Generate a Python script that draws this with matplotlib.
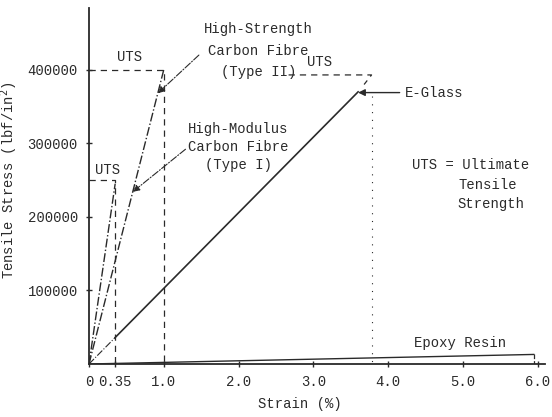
import matplotlib.pyplot as plt

# strain (%) / stress (lbf/in^2)
hs_strain = [0, 1.0]           # high-strength carbon fibre (type II)
hs_stress = [0, 400000]
hm_strain = [0, 0.35]          # high-modulus carbon fibre (type I)
hm_stress = [0, 245000]
eg_strain = [0, 0.35, 3.6]     # E-glass
eg_stress = [0, 36000, 370000]
ep_strain = [0, 5.95]          # epoxy resin
ep_stress = [0, 13000]

hs_uts = (1.0, 400000)
hm_uts = (0.35, 250000)
eg_uts = (3.78, 393000)

xticks = [0, 0.35, 1.0, 2.0, 3.0, 4.0, 5.0, 6.0]
xlabels = ['0', '0.35', '1.0', '2.0', '3.0', '4.0', '5.0', '6.0']
yticks = [100000, 200000, 300000, 400000]

plt.rcParams['font.family'] = ['Liberation Mono', 'DejaVu Sans Mono']
plt.rcParams['font.size'] = 10
ink = '#2a2a2a'

fig = plt.figure(figsize=(5.52, 4.17), dpi=100)
ax = fig.add_axes([89/552, 53/417, 456/552, 356/417])
ax.set_xlim(0, 6.1)
ax.set_ylim(0, 484000)

for s in ['top', 'right']:
    ax.spines[s].set_visible(False)
for s in ['left', 'bottom']:
    ax.spines[s].set_linewidth(1.3)
    ax.spines[s].set_color(ink)

# curves
ax.plot(hs_strain, hs_stress, color=ink, lw=1.0, ls='-.')
ax.plot(hm_strain, hm_stress, color=ink, lw=1.0, ls='-.')
ax.plot(eg_strain[:2], eg_stress[:2], color=ink, lw=0.8, ls='-.')
ax.plot(eg_strain[1:], eg_stress[1:], color=ink, lw=1.2)
ax.plot(ep_strain, ep_stress, color=ink, lw=1.0)

# UTS guide lines
ax.plot([0, hs_uts[0], hs_uts[0]], [hs_uts[1], hs_uts[1], 0], color=ink, lw=0.9, ls=(0, (5, 4)))
ax.plot([0, hm_uts[0], hm_uts[0]], [hm_uts[1], hm_uts[1], 0], color=ink, lw=0.9, ls=(0, (5, 4)))
ax.plot([2.67, eg_uts[0], eg_uts[0] - 0.1], [eg_uts[1], eg_uts[1], eg_uts[1] - 13000],
        color=ink, lw=0.9, ls=(0, (5, 4)))
ax.plot([eg_uts[0], eg_uts[0]], [365000, 0], color=ink, lw=0.8, ls=(0, (1, 6)))
ax.plot([ep_strain[1], ep_strain[1]], [ep_stress[1], 0], color=ink, lw=0.9, ls='--')

# labels with pointers
ax.text(2.27, 455000, 'High-Strength', ha='center', va='center', color=ink)
ax.text(2.27, 425000, 'Carbon Fibre', ha='center', va='center', color=ink)
ax.text(2.27, 397000, '(Type II)', ha='center', va='center', color=ink)
ax.annotate('', xy=(0.92, 368000), xytext=(1.47, 420000),
            arrowprops=dict(arrowstyle='-|>', color=ink, lw=0.8, ls='-.',
                            shrinkA=0, shrinkB=0))
ax.annotate('High-Modulus\nCarbon Fibre\n(Type I)', xy=(0.585, 234000), xytext=(2.0, 295000),
            ha='center', va='center', linespacing=1.35, color=ink,
            arrowprops=dict(arrowstyle='-|>', color=ink, lw=0.8, ls='-.',
                            shrinkA=0, shrinkB=0, relpos=(0.0, 0.5)))
ax.annotate('E-Glass', xy=(3.6, 369000), xytext=(4.23, 369000), ha='left', va='center', color=ink,
            arrowprops=dict(arrowstyle='-|>', color=ink, lw=1.0, shrinkA=2, shrinkB=0))

ax.text(0.54, 418000, 'UTS', ha='center', va='center', color=ink)
ax.text(0.25, 264000, 'UTS', ha='center', va='center', color=ink)
ax.text(3.08, 410000, 'UTS', ha='center', va='center', color=ink)
ax.text(4.35, 28600, 'Epoxy Resin', ha='left', va='center', color=ink)
ax.text(4.32, 271000, 'UTS = Ultimate', ha='left', va='center', color=ink)
ax.text(5.33, 244000, 'Tensile', ha='center', va='center', color=ink)
ax.text(5.38, 217000, 'Strength', ha='center', va='center', color=ink)

ax.set_xticks(xticks)
ax.set_xticklabels(xlabels)
ax.set_yticks(yticks)
ax.set_yticklabels([str(v) for v in yticks])
ax.tick_params(axis='both', colors=ink, direction='inout', length=4, width=1.0, pad=6)

ax.set_xlabel('Strain (%)', color=ink)
ax.xaxis.set_label_coords(0.463, -0.093)
ax.set_ylabel('Tensile Stress (lbf/in$^2$)', color=ink)
ax.yaxis.set_label_coords(-0.151, 0.517)

fig.savefig('out.png', dpi=100)
